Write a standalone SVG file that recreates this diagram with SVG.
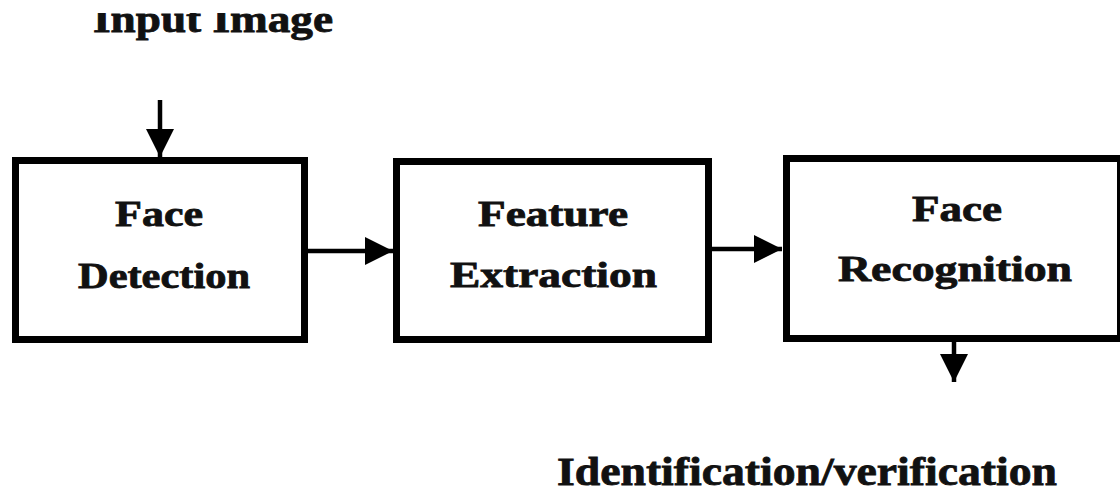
<svg xmlns="http://www.w3.org/2000/svg" width="1120" height="493" viewBox="0 0 1120 493">
  <style>
    .box { fill: #ffffff; stroke: #000000; stroke-width: 7; }
    .lbl { font-family: "Liberation Serif", "Times New Roman", serif; font-weight: bold; font-size: 35px; fill: #111111; stroke: #111111; stroke-width: 0.8; }
    .ext { font-family: "Liberation Serif", "Times New Roman", serif; font-weight: bold; fill: #111111; stroke: #111111; stroke-width: 0.8; }
    .conn { stroke: #000000; stroke-width: 4.5; fill: none; }
  </style>
  <defs>
    <marker id="ah" markerUnits="userSpaceOnUse" markerWidth="30" markerHeight="30" refX="28" refY="14" orient="auto" viewBox="0 0 30 30">
      <path d="M0,0 L28,14 L0,28 Z" fill="#000000"/>
    </marker>
    <clipPath id="topcut">
      <rect x="0" y="13" width="1120" height="480"/>
    </clipPath>
  </defs>
  <rect x="0" y="0" width="1120" height="493" fill="#ffffff"/>

  <g id="input-label" clip-path="url(#topcut)">
    <text class="ext" x="93" y="32" font-size="38" textLength="240" lengthAdjust="spacingAndGlyphs">Input Image</text>
  </g>

  <g id="face-detection">
    <rect class="box" x="15.5" y="160.5" width="289" height="179"/>
    <text class="lbl" x="115" y="226" textLength="88" lengthAdjust="spacingAndGlyphs">Face</text>
    <text class="lbl" x="78" y="288" textLength="172" lengthAdjust="spacingAndGlyphs">Detection</text>
  </g>

  <g id="feature-extraction">
    <rect class="box" x="396.5" y="161.5" width="312" height="178"/>
    <text class="lbl" x="478" y="226" textLength="150" lengthAdjust="spacingAndGlyphs">Feature</text>
    <text class="lbl" x="450" y="287" textLength="207" lengthAdjust="spacingAndGlyphs">Extraction</text>
  </g>

  <g id="face-recognition">
    <rect class="box" x="786.5" y="158.5" width="334" height="180"/>
    <text class="lbl" x="912" y="221" textLength="90" lengthAdjust="spacingAndGlyphs">Face</text>
    <text class="lbl" x="838" y="281" textLength="234" lengthAdjust="spacingAndGlyphs">Recognition</text>
  </g>

  <g id="output-label">
    <text class="ext" x="557" y="485" font-size="40" textLength="500" lengthAdjust="spacingAndGlyphs">Identification/verification</text>
  </g>

  <g id="connectors">
    <line class="conn" x1="160" y1="100" x2="160" y2="157" marker-end="url(#ah)"/>
    <line class="conn" x1="308" y1="251" x2="393" y2="251" marker-end="url(#ah)"/>
    <line class="conn" x1="712" y1="249" x2="782" y2="249" marker-end="url(#ah)"/>
    <line class="conn" x1="954" y1="342" x2="954" y2="382" marker-end="url(#ah)"/>
  </g>
</svg>
